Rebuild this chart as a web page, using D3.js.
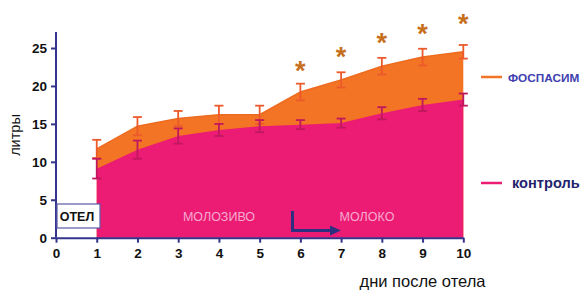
<!DOCTYPE html>
<html><head><meta charset="utf-8">
<script src="https://cdn.jsdelivr.net/npm/d3@7"></script>
<style>body{margin:0;background:#fff}svg{display:block}</style>
</head><body>
<svg id="c" width="583" height="291"></svg>
<script>
const days = [1,2,3,4,5,6,7,8,9,10];
const fosfasim = [11.7,14.7,15.7,16.2,16.2,19.2,20.8,22.6,23.8,24.5];
const fosfasimErr = [1.2,1.2,1.0,1.2,1.2,1.1,1.0,1.1,1.1,0.9];
const control = [9.1,11.6,13.4,14.2,14.7,14.9,15.1,16.4,17.5,18.2];
const controlErr = [1.3,1.2,1.0,0.8,0.8,0.6,0.6,0.8,0.8,0.8];
const starDays = [6,7,8,9,10];
const starLevels = [22.8,24.6,26.5,27.6,28.9];
const xTicks = [0,1,2,3,4,5,6,7,8,9,10];
const yTicks = [0,5,10,15,20,25];

const svg = d3.select('#c');
const x = d3.scaleLinear().domain([0,10]).range([56,463.3]);
const y = d3.scaleLinear().domain([0,25]).range([237.7,48]);
const axisCol = '#34348c';
const orange = '#F27424', pink = '#EC1C74';
const FF = 'Liberation Sans, Arial, sans-serif';

const rows = days.map((d,i)=>({d, f:fosfasim[i], fe:fosfasimErr[i], c:control[i], ce:controlErr[i]}));

svg.append('path').datum(rows).attr('fill',orange)
  .attr('d', d3.area().x(r=>x(r.d)).y0(y(0)).y1(r=>y(r.f)));
svg.append('path').datum(rows).attr('fill','none').attr('stroke','#EE6A1E').attr('stroke-width',1.5)
  .attr('d', d3.line().x(r=>x(r.d)).y(r=>y(r.f)));
svg.append('path').datum(rows).attr('fill',pink)
  .attr('d', d3.area().x(r=>x(r.d)).y0(y(0)).y1(r=>y(r.c)));

function errBars(key, ekey, col){
  const g = svg.append('g').attr('stroke',col).attr('stroke-width',1.8).attr('fill','none');
  rows.forEach(r=>{
    const cx = x(r.d), t = y(r[key]+r[ekey]), b = y(r[key]-r[ekey]);
    g.append('line').attr('x1',cx).attr('x2',cx).attr('y1',t).attr('y2',b);
    g.append('line').attr('x1',cx-4.5).attr('x2',cx+4.5).attr('y1',t).attr('y2',t);
    g.append('line').attr('x1',cx-4.5).attr('x2',cx+4.5).attr('y1',b).attr('y2',b);
  });
}
errBars('f','fe','#EC5A2C');
errBars('c','ce','#C0175E');

// asterisks
svg.append('g').selectAll('text').data(starDays).join('text')
  .attr('x',d=>x(d)).attr('y',(d,i)=>y(starLevels[i])+15)
  .attr('text-anchor','middle').attr('fill','#C6701E')
  .attr('font-family',FF).attr('font-size',27).attr('font-weight','bold')
  .text('*');

// axes
const xa = svg.append('g').attr('transform',`translate(0,${y(0)})`)
  .call(d3.axisBottom(x).tickValues(xTicks).tickSize(5).tickSizeOuter(0).tickFormat(d3.format('d')));
const ya = svg.append('g').attr('transform',`translate(${x(0)},0)`)
  .call(d3.axisLeft(y).tickValues(yTicks).tickSize(5).tickSizeOuter(0));
[xa,ya].forEach(a=>{
  a.selectAll('path,line').attr('stroke',axisCol).attr('stroke-width',2);
  a.selectAll('text').attr('fill','#111').attr('font-family',FF)
   .attr('font-size',13.5).attr('font-weight','bold');
});
ya.select('.domain').attr('d',`M0,${y(0)}V32`);
xa.selectAll('text').attr('dy','0.9em');
ya.selectAll('text').attr('dx','-1px');

// OTEL box
svg.append('rect').attr('x',57).attr('y',204).attr('width',43).attr('height',24)
  .attr('fill','#fff').attr('stroke','#5a5aa8').attr('stroke-width',1.2);
svg.append('text').attr('x',77).attr('y',220.5).attr('text-anchor','middle')
  .attr('font-family',FF).attr('font-size',12.5).attr('font-weight','bold')
  .attr('fill','#111').text('ОТЕЛ');

svg.append('text').attr('x',219).attr('y',220.5).attr('text-anchor','middle')
  .attr('font-family',FF).attr('font-size',12.5)
  .attr('fill','#F6AAD0').text('МОЛОЗИВО');
svg.append('text').attr('x',367).attr('y',220.5).attr('text-anchor','middle')
  .attr('font-family',FF).attr('font-size',12.5)
  .attr('fill','#F6AAD0').text('МОЛОКО');

// arrow
svg.append('path').attr('d','M292.5,211V230.5H332').attr('fill','none')
  .attr('stroke','#2F2F80').attr('stroke-width',3);
svg.append('path').attr('d','M330,225.5L341,230.5L330,235.5Z').attr('fill','#2F2F80');

// axis titles
svg.append('text').attr('transform','translate(20,135) rotate(-90)').attr('text-anchor','middle')
  .attr('font-family',FF).attr('font-size',14.5).attr('fill','#111').text('литры');
svg.append('text').attr('x',422.5).attr('y',286.5).attr('text-anchor','middle')
  .attr('font-family',FF).attr('font-size',16.5).attr('fill','#111').text('дни после отела');

// legend
svg.append('line').attr('x1',481).attr('x2',502).attr('y1',77).attr('y2',77).attr('stroke',orange).attr('stroke-width',2.5);
svg.append('text').attr('x',508).attr('y',81.5).attr('font-family',FF)
  .attr('font-size',11.8).attr('font-weight','bold').attr('fill','#4040B0').text('ФОСПАСИМ');
svg.append('line').attr('x1',481).attr('x2',502).attr('y1',183).attr('y2',183).attr('stroke',pink).attr('stroke-width',2.5);
svg.append('text').attr('x',512).attr('y',188).attr('font-family',FF)
  .attr('font-size',14.6).attr('font-weight','bold').attr('fill','#24246e').text('контроль');
</script>
</body></html>
